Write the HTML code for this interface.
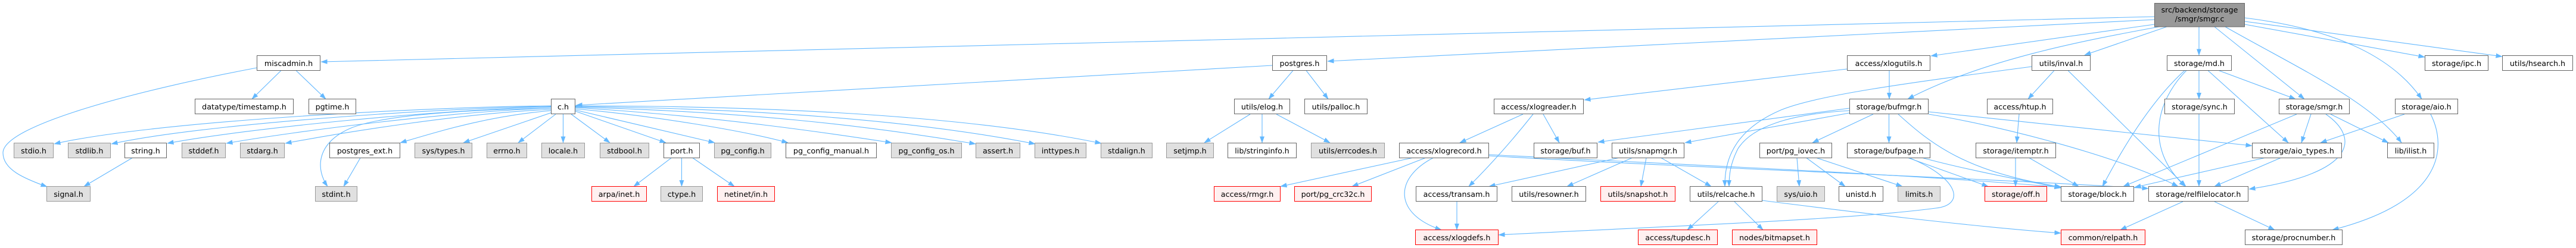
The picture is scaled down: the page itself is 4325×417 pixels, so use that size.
<!DOCTYPE html>
<html>
<head>
<meta charset="utf-8">
<style>
html,body{margin:0;padding:0;background:#fff;}
svg{display:block;}
text{font-family:"DejaVu Sans","Liberation Sans",sans-serif;font-size:12.7px;fill:#000;text-anchor:middle;}
.w{fill:#fff;stroke:#666;stroke-width:1;}
.g{fill:#e0e0e0;stroke:#999;stroke-width:1;}
.r{fill:#fff0f0;stroke:#f00;stroke-width:1;}
.t{fill:#999;stroke:#666;stroke-width:1;}
.e path{fill:none;stroke:#63b8ff;stroke-width:1.1;marker-end:url(#a);}
</style>
</head>
<body>
<svg width="4325" height="417" viewBox="0 0 4325 417" xmlns="http://www.w3.org/2000/svg">
<defs>
<marker id="a" markerWidth="11" markerHeight="9" refX="10.5" refY="4.5" orient="auto" markerUnits="userSpaceOnUse">
<path d="M0,0.8 L10.5,4.5 L0,8.2 z" fill="#63b8ff" stroke="#63b8ff" stroke-width="0.5"/>
</marker>
</defs>
<rect width="4325" height="417" fill="#fff"/>

<g class="e">
<!-- smgr.c -->
<path d="M3617,28 L539,104"/>
<path d="M3617,33 L2229,103"/>
<path d="M3617,41 L3242,94"/>
<path d="M3625,45 C3500,68 3330,100 3203,166.5"/>
<path d="M3638,45 L3500,92.5"/>
<path d="M3692,45 L3692,93"/>
<path d="M3718,45 L3869,166.5"/>
<path d="M3736,45 C3850,110 3980,170 4032,240"/>
<path d="M3769,30 C3930,50 4020,100 4066,166.5"/>
<path d="M3769,41 L4071,96"/>
<path d="M3769,36 L4201,95"/>
<!-- miscadmin -->
<path d="M431,114 C240,150 5,210 5,257 C5,285 40,300 79,314"/>
<path d="M472,118.5 L423,166.5"/>
<path d="M497,118.5 L547,166.5"/>
<!-- postgres.h -->
<path d="M2136,110 L967,177"/>
<path d="M2171,118.5 L2130,166.5"/>
<path d="M2193,118.5 L2230,166.5"/>
<!-- c.h left fan -->
<path d="M925,178 C700,180 250,205 91,242"/>
<path d="M925,179 C720,182 330,210 187,242"/>
<path d="M925,180 C740,184 420,215 281,241"/>
<path d="M925,182 C760,187 500,220 380,241"/>
<path d="M925,184 C780,190 580,222 479,241"/>
<path d="M925,182 C760,185 640,195 590,215 C530,240 530,285 550,313.5"/>
<path d="M925,186 C820,195 740,220 672,240"/>
<path d="M927,189 L778,240"/>
<path d="M933,192 L870,240"/>
<path d="M945.5,192 L945.5,240"/>
<path d="M959,192 L1024,240"/>
<path d="M966,187 L1118,240"/>
<path d="M966,185 L1200,240"/>
<path d="M966,183 C1100,195 1250,220 1323,240"/>
<path d="M966,181 C1200,195 1400,225 1497,240"/>
<path d="M966,180 C1250,188 1450,210 1638,242"/>
<path d="M966,179 C1300,183 1550,205 1738,242"/>
<path d="M966,178 C1350,178 1650,200 1849,241"/>
<!-- string.h, postgres_ext, port -->
<path d="M222,265.5 L141,313.5"/>
<path d="M605,265.5 L577,313.5"/>
<path d="M1127,265.5 L1064,313.5"/>
<path d="M1144.5,265.5 L1144.5,313.5"/>
<path d="M1163,265.5 L1233,313.5"/>
<!-- elog -->
<path d="M2099,192 L2022,240"/>
<path d="M2119,192 L2119,240"/>
<path d="M2143,192 L2233,240"/>
<!-- xlogutils -->
<path d="M3101,116 L2660,168"/>
<path d="M3172,118.5 L3172,166.5"/>
<!-- inval -->
<path d="M3449,118.5 L3405,166.5"/>
<path d="M3472,118.5 L3670,313.5"/>
<path d="M3411,112 C3200,140 3050,160 2990,185 C2920,215 2895,260 2896,313.5"/>
<!-- htup, itemptr -->
<path d="M3390,192 L3386,240"/>
<path d="M3384,265.5 L3384,313.5"/>
<path d="M3407,265.5 L3490,313.5"/>
<!-- bufmgr -->
<path d="M3105,182 L2683,239"/>
<path d="M3105,190 L2829,240"/>
<path d="M3105,186 C3000,192 2940,215 2918,250 C2905,275 2903,295 2903,313.5"/>
<path d="M3145,192 L3043,240"/>
<path d="M3171.5,192 L3171.5,240"/>
<path d="M3187,192 C3240,240 3300,290 3460,314"/>
<path d="M3238,188 L3781,245"/>
<path d="M3238,192 C3350,210 3550,260 3657,313.5"/>
<!-- pg_iovec -->
<path d="M3017,265.5 L3021,313.5"/>
<path d="M3033,265.5 L3098,313.5"/>
<path d="M3050,265.5 L3194,313.5"/>
<!-- bufpage -->
<path d="M3204,265.5 L3338,313.5"/>
<path d="M3228,265.5 C3300,285 3380,300 3460,316"/>
<path d="M3206,265.5 C3290,300 3300,345 3250,350 C3100,370 2800,380 2516,395"/>
<!-- xlogreader -->
<path d="M2557,192 L2451,240"/>
<path d="M2574,192 Q2520,260 2466,313.5"/>
<path d="M2591,192 L2618,240"/>
<!-- xlogrecord -->
<path d="M2371,265.5 L2150,313.5"/>
<path d="M2393,265.5 L2270,313.5"/>
<path d="M2406,265.5 C2340,300 2340,360 2420,386.5"/>
<path d="M2500,260 C2800,276 3200,292 3460,315"/>
<path d="M2500,262 C2800,280 3300,298 3607,317"/>
<!-- snapmgr -->
<path d="M2717,265.5 L2500,313.5"/>
<path d="M2740,265.5 L2631,313.5"/>
<path d="M2764,265.5 L2755,313.5"/>
<path d="M2789,265.5 L2873,313.5"/>
<!-- transam -->
<path d="M2446,339 L2446,386.5"/>
<!-- relcache -->
<path d="M2885,339 L2833,386.5"/>
<path d="M2912,339 L2960,386.5"/>
<path d="M2958,337 C3100,355 3300,380 3460,392"/>
<!-- md.h -->
<path d="M3692,118.5 L3692,166.5"/>
<path d="M3725,118.5 L3854,166.5"/>
<path d="M3707,118.5 L3842,240"/>
<path d="M3671,118.5 C3620,170 3600,250 3669,313.5"/>
<path d="M3668,118.5 Q3600,180 3530,313.5"/>
<!-- sync -->
<path d="M3692,192 L3692,313.5"/>
<!-- smgr.h -->
<path d="M3856,192 L3565,313.5"/>
<path d="M3880,192 L3864,240"/>
<path d="M3905,192 C3960,230 3960,290 3776,318"/>
<path d="M3913,192 L4010,240"/>
<!-- aio.h -->
<path d="M4037,192 L3896,240"/>
<path d="M4081,192 C4110,250 4100,340 3916,386.5"/>
<!-- aio_types -->
<path d="M3802,265.5 L3584,315"/>
<path d="M3829,265.5 L3718,313.5"/>
<!-- relfilelocator -->
<path d="M3665,339 L3560,386.5"/>
<path d="M3718,339 L3819,386.5"/>
</g>

<!-- top node -->
<rect class="t" x="3617.5" y="5.5" width="151" height="39.5"/>
<text x="3693" y="20.8">src/backend/storage</text>
<text x="3693" y="36">/smgr/smgr.c</text>

<!-- Row 1 -->
<rect class="w" x="431.5" y="93.5" width="106" height="25"/><text x="484.5" y="111">miscadmin.h</text>
<rect class="w" x="2136.5" y="93.5" width="91" height="25"/><text x="2182" y="111">postgres.h</text>
<rect class="w" x="3101.5" y="93.5" width="139" height="25"/><text x="3171" y="111">access/xlogutils.h</text>
<rect class="w" x="3411.5" y="93.5" width="98" height="25"/><text x="3460.5" y="111">utils/inval.h</text>
<rect class="w" x="3638.5" y="93.5" width="108" height="25"/><text x="3692.5" y="111">storage/md.h</text>
<rect class="w" x="4071.5" y="93.5" width="106" height="25"/><text x="4124.5" y="111">storage/ipc.h</text>
<rect class="w" x="4201.5" y="93.5" width="118" height="25"/><text x="4260.5" y="111">utils/hsearch.h</text>

<!-- Row 2 -->
<rect class="w" x="327.5" y="166.5" width="165" height="25"/><text x="410" y="184">datatype/timestamp.h</text>
<rect class="w" x="518.5" y="166.5" width="79" height="25"/><text x="558" y="184">pgtime.h</text>
<rect class="w" x="925.5" y="166.5" width="40" height="25"/><text x="945.5" y="184">c.h</text>
<rect class="w" x="2072.5" y="166.5" width="93" height="25"/><text x="2119" y="184">utils/elog.h</text>
<rect class="w" x="2190.5" y="166.5" width="105" height="25"/><text x="2243" y="184">utils/palloc.h</text>
<rect class="w" x="2508.5" y="166.5" width="150" height="25"/><text x="2583.5" y="184">access/xlogreader.h</text>
<rect class="w" x="3105.5" y="166.5" width="132" height="25"/><text x="3171.5" y="184">storage/bufmgr.h</text>
<rect class="w" x="3336.5" y="166.5" width="110" height="25"/><text x="3391.5" y="184">access/htup.h</text>
<rect class="w" x="3634.5" y="166.5" width="117" height="25"/><text x="3693" y="184">storage/sync.h</text>
<rect class="w" x="3826.5" y="166.5" width="118" height="25"/><text x="3885.5" y="184">storage/smgr.h</text>
<rect class="w" x="4021.5" y="166.5" width="105" height="25"/><text x="4074" y="184">storage/aio.h</text>

<!-- Row 3 -->
<rect class="g" x="23.5" y="240.5" width="66" height="25"/><text x="56.5" y="258">stdio.h</text>
<rect class="g" x="114.5" y="240.5" width="71" height="25"/><text x="150" y="258">stdlib.h</text>
<rect class="w" x="209.5" y="240.5" width="70" height="25"/><text x="244.5" y="258">string.h</text>
<rect class="g" x="305.5" y="240.5" width="73" height="25"/><text x="342" y="258">stddef.h</text>
<rect class="g" x="403.5" y="240.5" width="74" height="25"/><text x="440.5" y="258">stdarg.h</text>
<rect class="w" x="553.5" y="240.5" width="118" height="25"/><text x="612.5" y="258">postgres_ext.h</text>
<rect class="g" x="696.5" y="240.5" width="96" height="25"/><text x="744.5" y="258">sys/types.h</text>
<rect class="g" x="817.5" y="240.5" width="67" height="25"/><text x="851" y="258">errno.h</text>
<rect class="g" x="909.5" y="240.5" width="72" height="25"/><text x="945.5" y="258">locale.h</text>
<rect class="g" x="1007.5" y="240.5" width="82" height="25"/><text x="1048.5" y="258">stdbool.h</text>
<rect class="w" x="1114.5" y="240.5" width="60" height="25"/><text x="1144.5" y="258">port.h</text>
<rect class="g" x="1199.5" y="240.5" width="95" height="25"/><text x="1247" y="258">pg_config.h</text>
<rect class="w" x="1319.5" y="240.5" width="152" height="25"/><text x="1395.5" y="258">pg_config_manual.h</text>
<rect class="g" x="1496.5" y="240.5" width="118" height="25"/><text x="1555.5" y="258">pg_config_os.h</text>
<rect class="g" x="1638.5" y="240.5" width="74" height="25"/><text x="1675.5" y="258">assert.h</text>
<rect class="g" x="1737.5" y="240.5" width="86" height="25"/><text x="1780.5" y="258">inttypes.h</text>
<rect class="g" x="1848.5" y="240.5" width="86" height="25"/><text x="1891.5" y="258">stdalign.h</text>
<rect class="g" x="1958.5" y="240.5" width="79" height="25"/><text x="1998" y="258">setjmp.h</text>
<rect class="w" x="2061.5" y="240.5" width="115" height="25"/><text x="2119" y="258">lib/stringinfo.h</text>
<rect class="g" x="2201.5" y="240.5" width="123" height="25"/><text x="2263" y="258">utils/errcodes.h</text>
<rect class="w" x="2349.5" y="240.5" width="150" height="25"/><text x="2424.5" y="258">access/xlogrecord.h</text>
<rect class="w" x="2575.5" y="240.5" width="106" height="25"/><text x="2628.5" y="258">storage/buf.h</text>
<rect class="w" x="2706.5" y="240.5" width="121" height="25"/><text x="2767" y="258">utils/snapmgr.h</text>
<rect class="w" x="2954.5" y="240.5" width="121" height="25"/><text x="3015" y="258">port/pg_iovec.h</text>
<rect class="w" x="3101.5" y="240.5" width="139" height="25"/><text x="3171" y="258">storage/bufpage.h</text>
<rect class="w" x="3317.5" y="240.5" width="134" height="25"/><text x="3384.5" y="258">storage/itemptr.h</text>
<rect class="w" x="3781.5" y="240.5" width="150" height="25"/><text x="3856.5" y="258">storage/aio_types.h</text>
<rect class="w" x="4008.5" y="240.5" width="78" height="25"/><text x="4047.5" y="258">lib/ilist.h</text>

<!-- Row 4 -->
<rect class="g" x="78.5" y="313.5" width="73" height="25"/><text x="115" y="331">signal.h</text>
<rect class="g" x="529.5" y="313.5" width="70" height="25"/><text x="564.5" y="331">stdint.h</text>
<rect class="r" x="993.5" y="313.5" width="92" height="25"/><text x="1039.5" y="331">arpa/inet.h</text>
<rect class="g" x="1109.5" y="313.5" width="70" height="25"/><text x="1144.5" y="331">ctype.h</text>
<rect class="r" x="1204.5" y="313.5" width="96" height="25"/><text x="1252.5" y="331">netinet/in.h</text>
<rect class="r" x="2038.5" y="313.5" width="111" height="25"/><text x="2094" y="331">access/rmgr.h</text>
<rect class="r" x="2173.5" y="313.5" width="129" height="25"/><text x="2238" y="331">port/pg_crc32c.h</text>
<rect class="w" x="2377.5" y="313.5" width="136" height="25"/><text x="2445.5" y="331">access/transam.h</text>
<rect class="w" x="2538.5" y="313.5" width="124" height="25"/><text x="2600.5" y="331">utils/resowner.h</text>
<rect class="r" x="2687.5" y="313.5" width="125" height="25"/><text x="2750" y="331">utils/snapshot.h</text>
<rect class="w" x="2837.5" y="313.5" width="121" height="25"/><text x="2898" y="331">utils/relcache.h</text>
<rect class="g" x="2983.5" y="313.5" width="80" height="25"/><text x="3023.5" y="331">sys/uio.h</text>
<rect class="w" x="3087.5" y="313.5" width="74" height="25"/><text x="3124.5" y="331">unistd.h</text>
<rect class="g" x="3186.5" y="313.5" width="71" height="25"/><text x="3222" y="331">limits.h</text>
<rect class="r" x="3332.5" y="313.5" width="104" height="25"/><text x="3384.5" y="331">storage/off.h</text>
<rect class="w" x="3460.5" y="313.5" width="122" height="25"/><text x="3521.5" y="331">storage/block.h</text>
<rect class="w" x="3607.5" y="313.5" width="167" height="25"/><text x="3691" y="331">storage/relfilelocator.h</text>

<!-- Row 5 -->
<rect class="r" x="2376.5" y="386.5" width="139" height="25"/><text x="2446" y="404">access/xlogdefs.h</text>
<rect class="r" x="2750.5" y="386.5" width="133" height="25"/><text x="2817" y="404">access/tupdesc.h</text>
<rect class="r" x="2908.5" y="386.5" width="142" height="25"/><text x="2979.5" y="404">nodes/bitmapset.h</text>
<rect class="r" x="3460.5" y="386.5" width="141" height="25"/><text x="3531" y="404">common/relpath.h</text>
<rect class="w" x="3769.5" y="386.5" width="163" height="25"/><text x="3851" y="404">storage/procnumber.h</text>
</svg>
</body>
</html>
